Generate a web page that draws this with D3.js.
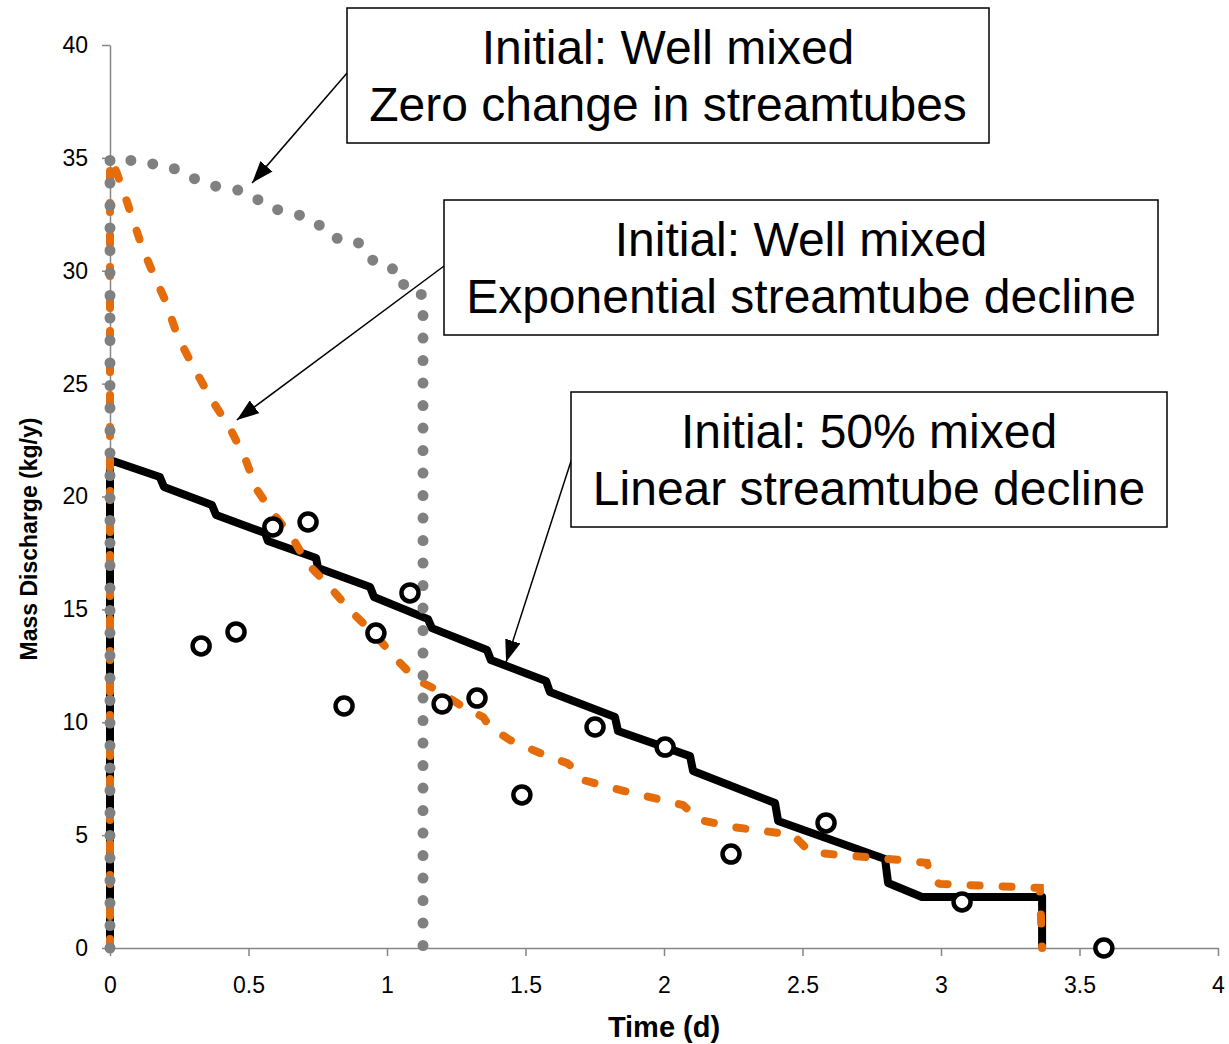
<!DOCTYPE html>
<html>
<head>
<meta charset="utf-8">
<script src="https://cdn.jsdelivr.net/npm/d3@7"></script>
<style>
  body { margin: 0; background: #fff; }
  svg { display: block; font-family: "Liberation Sans", Arial, sans-serif; }
</style>
</head>
<body>
<svg id="chart" width="1229" height="1044"></svg>
<script>
// ticks
const xTicks = [0, 0.5, 1, 1.5, 2, 2.5, 3, 3.5, 4];
const yTicks = [0, 5, 10, 15, 20, 25, 30, 35, 40];

// "Initial: 50% mixed / Linear streamtube decline" (solid black)
const linearT = [0, 0, 0.18, 0.195, 0.368, 0.383, 0.56, 0.57, 0.744, 0.751, 0.939, 0.953, 1.148, 1.162,
  1.361, 1.375, 1.574, 1.588, 1.823, 1.834, 2.094, 2.105, 2.401, 2.412, 2.798, 2.809, 2.931, 3.365, 3.365];
const linearQ = [0, 21.62, 20.86, 20.42, 19.62, 19.18, 18.38, 18.03, 17.28, 16.83, 15.99, 15.55, 14.57, 14.17,
  13.2, 12.76, 11.83, 11.34, 10.23, 9.61, 8.5, 7.84, 6.42, 5.63, 3.94, 2.88, 2.26, 2.26, 0];

// "Initial: Well mixed / Exponential streamtube decline" (orange dashed)
const expT = [0, 0, 0.014, 0.047, 0.083, 0.116, 0.155, 0.199, 0.245, 0.307, 0.368, 0.433, 0.487, 0.531,
  0.588, 0.657, 0.711, 0.794, 0.866, 0.964, 1.036, 1.108, 1.181, 1.274, 1.347, 1.372, 1.444, 1.552,
  1.65, 1.69, 1.708, 1.841, 2.069, 2.13, 2.249, 2.466, 2.527, 2.635, 2.852, 2.949, 2.968, 2.996, 3.357, 3.365];
const expQ = [0, 34.91, 34.68, 33.58, 32.25, 31.05, 29.9, 28.7, 27.07, 25.6, 24.27, 23.03, 21.71, 20.29,
  19.27, 18.21, 17.05, 15.99, 14.97, 13.78, 12.76, 11.87, 11.43, 10.68, 10.23, 9.79, 9.21, 8.64,
  8.19, 7.8, 7.44, 7.0, 6.33, 5.67, 5.36, 5.01, 4.25, 4.12, 3.9, 3.77, 3.01, 2.84, 2.66, 0];

// "Initial: Well mixed / Zero change in streamtubes" (grey dotted)
const zeroT = [0, 0, 0.043, 0.108, 0.188, 0.253, 0.314, 0.379, 0.451, 0.516, 0.57, 0.639, 0.711, 0.765,
  0.812, 0.892, 0.928, 0.975, 1.047, 1.065, 1.13, 1.13];
const zeroQ = [0, 34.91, 35.04, 34.73, 34.73, 34.42, 34.02, 33.75, 33.62, 33.31, 32.82, 32.6, 32.38, 31.94,
  31.45, 31.32, 30.7, 30.17, 30.03, 29.15, 28.93, 0];

// observed mass discharge (open circles)
const obsT = [0.329, 0.455, 0.588, 0.715, 0.845, 0.96, 1.083, 1.199, 1.325, 1.487, 1.751, 2.004, 2.242, 2.585, 3.076, 3.588];
const obsQ = [13.38, 14.0, 18.65, 18.87, 10.72, 13.95, 15.73, 10.81, 11.07, 6.78, 9.79, 8.9, 4.16, 5.54, 2.04, 0];

// annotation text and arrow ends (data units)
const notes = [
  { lines: ['Initial: Well mixed', 'Zero change in streamtubes'], box: [347, 8, 642, 135], from: [0.859, 38.8], to: [0.513, 33.89] },
  { lines: ['Initial: Well mixed', 'Exponential streamtube decline'], box: [444, 200, 714, 135], from: [1.206, 30.21], to: [0.458, 23.39] },
  { lines: ['Initial: 50% mixed', 'Linear streamtube decline'], box: [571, 392, 596, 135], from: [1.668, 21.71], to: [1.43, 12.67] }
];

const margin = { top: 45, right: 11, bottom: 96, left: 110 };
const svg = d3.select('#chart');
const width = +svg.attr('width') - margin.left - margin.right;
const height = +svg.attr('height') - margin.top - margin.bottom;
const axisColor = '#868686';

const x = d3.scaleLinear().domain([0, 4]).range([0, width]);
const y = d3.scaleLinear().domain([0, 40]).range([height, 0]);

const g = svg.append('g').attr('transform', `translate(${margin.left},${margin.top})`);

// axes
const xAxis = g.append('g')
  .attr('transform', `translate(0,${height})`)
  .call(d3.axisBottom(x).tickValues(xTicks).tickSize(8).tickSizeOuter(0).tickFormat(d3.format('')));
const yAxis = g.append('g')
  .call(d3.axisLeft(y).tickValues(yTicks).tickSize(8).tickSizeOuter(0));

[xAxis, yAxis].forEach(ax => {
  ax.select('.domain').attr('stroke', axisColor).attr('stroke-width', 1.5);
  ax.selectAll('.tick line').attr('stroke', axisColor).attr('stroke-width', 1.5);
  ax.selectAll('.tick text').attr('fill', '#000').style('font-size', '23px');
});
xAxis.selectAll('.tick text').attr('dy', '1.05em').attr('y', 21);
yAxis.selectAll('.tick text').attr('x', -22);

// axis titles
g.append('text')
  .attr('x', width / 2)
  .attr('y', height + 89)
  .attr('text-anchor', 'middle')
  .style('font-size', '29px')
  .style('font-weight', 'bold')
  .text('Time (d)');
g.append('text')
  .attr('transform', `translate(${37 - margin.left},${539 - margin.top}) rotate(-90)`)
  .attr('text-anchor', 'middle')
  .style('font-size', '23px')
  .style('font-weight', 'bold')
  .text('Mass Discharge (kg/y)');

const line = d3.line().x(d => x(d[0])).y(d => y(d[1]));

// series, in the order Excel stacked them
g.append('path')
  .datum(d3.zip(linearT, linearQ))
  .attr('d', line)
  .attr('fill', 'none')
  .attr('stroke', '#000')
  .attr('stroke-width', 8)
  .attr('stroke-linejoin', 'round');

g.append('path')
  .datum(d3.zip(expT, expQ))
  .attr('d', line)
  .attr('fill', 'none')
  .attr('stroke', '#E46C0A')
  .attr('stroke-width', 8)
  .attr('stroke-linecap', 'round')
  .attr('stroke-dasharray', '9 23');

g.append('path')
  .datum(d3.zip(zeroT, zeroQ))
  .attr('d', line)
  .attr('fill', 'none')
  .attr('stroke', '#808080')
  .attr('stroke-width', 11)
  .attr('stroke-linecap', 'round')
  .attr('stroke-dasharray', '0 22.5');

g.selectAll('.obs')
  .data(d3.zip(obsT, obsQ))
  .enter()
  .append('circle')
  .attr('class', 'obs')
  .attr('cx', d => x(d[0]))
  .attr('cy', d => y(d[1]))
  .attr('r', 8.5)
  .attr('fill', '#fff')
  .attr('stroke', '#000')
  .attr('stroke-width', 4.5);

// annotations
svg.append('defs').append('marker')
  .attr('id', 'arrow')
  .attr('markerUnits', 'userSpaceOnUse')
  .attr('viewBox', '0 0 22 16')
  .attr('refX', 22)
  .attr('refY', 8)
  .attr('markerWidth', 22)
  .attr('markerHeight', 16)
  .attr('orient', 'auto')
  .append('path')
  .attr('d', 'M0,0L22,8L0,16Z')
  .attr('fill', '#000');

notes.forEach(n => {
  g.append('line')
    .attr('x1', x(n.from[0]))
    .attr('y1', y(n.from[1]))
    .attr('x2', x(n.to[0]))
    .attr('y2', y(n.to[1]))
    .attr('stroke', '#000')
    .attr('stroke-width', 1.5)
    .attr('marker-end', 'url(#arrow)');

  const [bx, by, bw, bh] = n.box;
  svg.append('rect')
    .attr('x', bx).attr('y', by).attr('width', bw).attr('height', bh)
    .attr('fill', '#fff')
    .attr('stroke', '#000')
    .attr('stroke-width', 1.5);
  svg.append('text')
    .attr('x', bx + bw / 2)
    .attr('y', by + 56)
    .attr('text-anchor', 'middle')
    .style('font-size', '48px')
    .selectAll('tspan')
    .data(n.lines)
    .enter()
    .append('tspan')
    .attr('x', bx + bw / 2)
    .attr('dy', (d, i) => i ? 57 : 0)
    .text(d => d);
});
</script>
</body>
</html>
